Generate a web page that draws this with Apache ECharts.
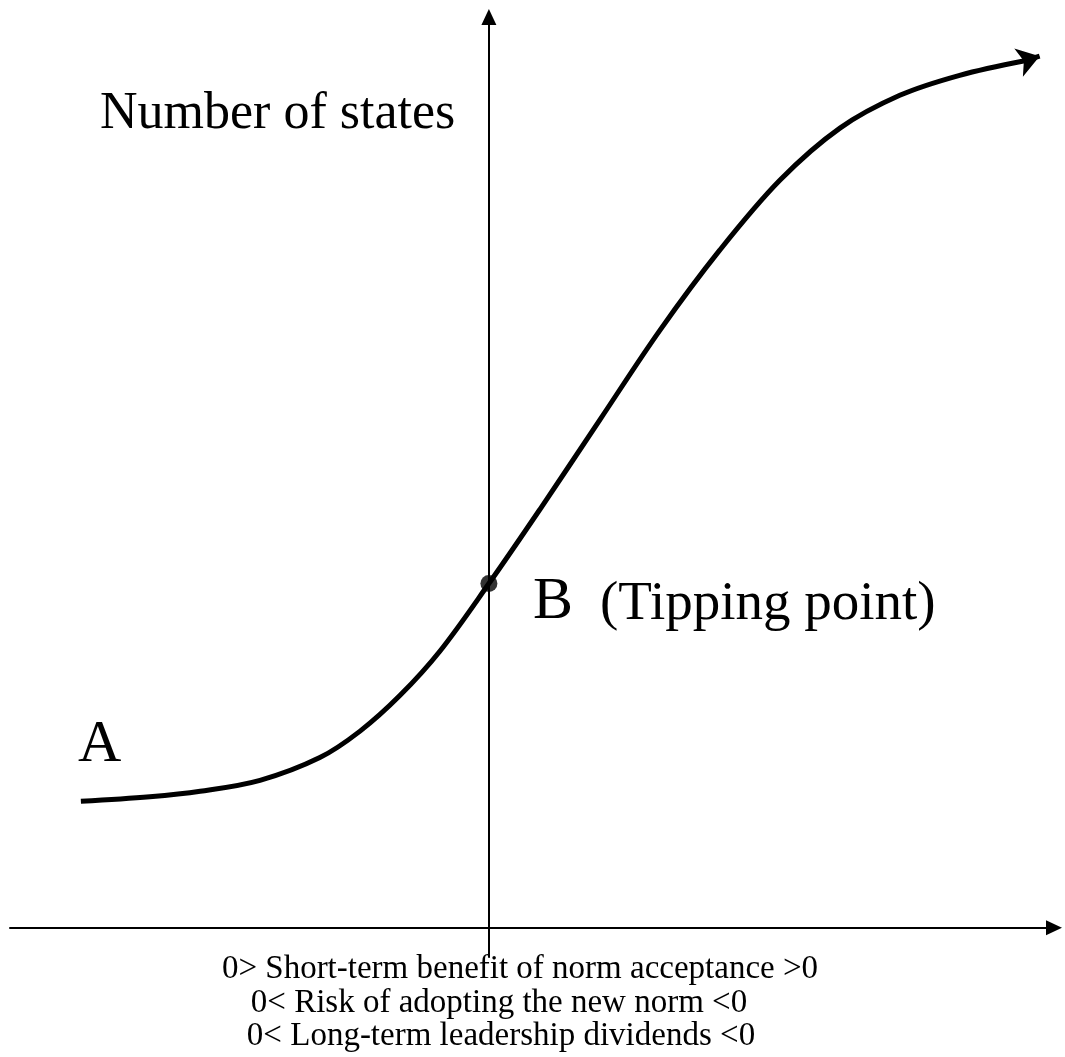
<!DOCTYPE html>
<html><head><meta charset="utf-8">
<script src="https://cdn.jsdelivr.net/npm/echarts@6/dist/echarts.min.js"></script>
<style>html,body{margin:0;padding:0;background:#fff}#c{width:1065px;height:1057px}</style>
</head><body><div id="c"></div>
<script>
// S-curve: x = position relative to tipping point, y = number of states
const curveX = [-0.852, -0.708, -0.603, -0.478, -0.353, -0.269, -0.186, -0.102, 0, 0.106, 0.232, 0.357, 0.482, 0.608, 0.733, 0.858, 0.983, 1.119];
const curveY = [13.9, 14.4, 15.0, 16.2, 18.7, 21.6, 25.5, 30.4, 37.8, 45.9, 55.8, 65.6, 74.4, 82.1, 87.8, 91.4, 93.6, 95.2];
const arrowX = [1.119, 1.150];
const arrowY = [95.2, 95.7];
const tipPoint = [0, 37.8];
const yAxisTitle = 'Number of states';
const labelA = 'A';
const labelB = 'B';
const tipText = '(Tipping point)';
const xAxisLines = [
  '0> Short-term benefit of norm acceptance >0',
  '0< Risk of adopting the new norm <0',
  '0< Long-term leadership dividends <0'
];

const chart = echarts.init(document.getElementById('c'));
const serif = '"Liberation Serif", "Times New Roman", serif';
const axisCommon = {
  type: 'value',
  axisLine: { onZero: true, lineStyle: { color: '#000', width: 2 }, symbol: ['none', 'triangle'], symbolSize: [15, 16] },
  axisTick: { show: false }, axisLabel: { show: false }, splitLine: { show: false }
};
function txt(x, y, text, size, align) {
  return { type: 'text', x: x, y: y, style: { text: text, font: size + 'px ' + serif, fill: '#000', align: align || 'left', verticalAlign: 'top' } };
}
chart.setOption({
  animation: false,
  backgroundColor: '#fff',
  grid: { left: 10, right: 11, top: 17, bottom: 100 },
  xAxis: Object.assign({}, axisCommon, { min: -1, max: 1.18 }),
  yAxis: Object.assign({}, axisCommon, { min: -3.2, max: 100 }),
  series: [
    {
      type: 'line', smooth: 0.35, showSymbol: false,
      data: curveX.map((x, i) => [x, curveY[i]]),
      lineStyle: { color: '#000', width: 5 }
    },
    {
      type: 'lines', coordinateSystem: 'cartesian2d',
      data: [{ coords: arrowX.map((x, i) => [x, arrowY[i]]) }],
      symbol: ['none', 'arrow'], symbolSize: [20, 22],
      lineStyle: { color: '#000', width: 5, opacity: 1 }
    },
    {
      type: 'scatter', data: [tipPoint], symbolSize: 17,
      itemStyle: { color: '#000' }
    }
  ],
  graphic: [
    txt(100, 88, yAxisTitle, 52),
    txt(78, 715, labelA, 60),
    txt(533, 572, labelB, 60),
    txt(600, 577, tipText, 55),
    txt(520, 953, xAxisLines[0], 33, 'center'),
    txt(499, 987, xAxisLines[1], 33, 'center'),
    txt(501, 1020, xAxisLines[2], 33, 'center')
  ]
});
</script></body></html>
